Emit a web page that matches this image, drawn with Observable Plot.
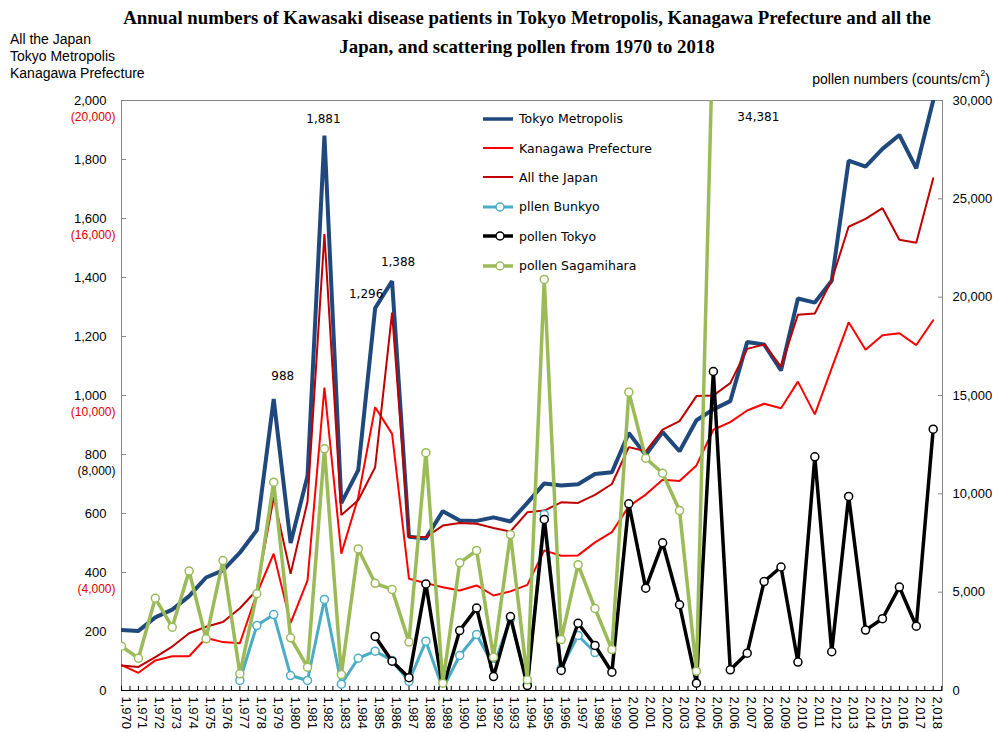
<!DOCTYPE html>
<html><head><meta charset="utf-8">
<script src="https://cdn.jsdelivr.net/npm/d3@7"></script>
<script src="https://cdn.jsdelivr.net/npm/@observablehq/plot@0.6"></script>
<style>
body{margin:0;background:#fff;}
#wrap{position:relative;width:993px;height:732px;overflow:hidden;background:#fff;}
#title{position:absolute;left:527px;top:3px;transform:translateX(-50%);white-space:nowrap;text-align:center;font-family:"Liberation Serif","Times New Roman",serif;font-weight:bold;font-size:18.8px;line-height:29px;color:#000;}
#ltitle{position:absolute;left:10px;top:31px;font-family:"Liberation Sans",Arial,sans-serif;font-size:14px;line-height:17px;color:#000;}
#rtitle{position:absolute;right:3px;top:71px;font-family:"Liberation Sans",Arial,sans-serif;font-size:14px;color:#000;}
#rtitle sup{font-size:9px;vertical-align:top;position:relative;top:-3px;}
#chart{position:absolute;left:0;top:0;}
#legend{position:absolute;left:481px;top:104px;font-family:"DejaVu Sans",Verdana,sans-serif;font-size:12.5px;color:#000;}
.lrow{height:29.4px;display:flex;align-items:center;}
.lrow svg{margin-right:4px;}
</style></head><body>
<div id="wrap">
<div id="title">Annual numbers of Kawasaki disease patients in Tokyo Metropolis, Kanagawa Prefecture and all the<br>Japan, and scattering pollen from 1970 to 2018</div>
<div id="ltitle">All the Japan<br>Tokyo Metropolis<br>Kanagawa Prefecture</div>
<div id="rtitle">pollen numbers (counts/cm<sup>2</sup>)</div>
<div id="chart"></div>
<div id="legend"></div>
</div>
<script>
// ---- categories ----
const years = [1970,1971,1972,1973,1974,1975,1976,1977,1978,1979,
  1980,1981,1982,1983,1984,1985,1986,1987,1988,1989,
  1990,1991,1992,1993,1994,1995,1996,1997,1998,1999,
  2000,2001,2002,2003,2004,2005,2006,2007,2008,2009,
  2010,2011,2012,2013,2014,2015,2016,2017,2018];

// ---- patients (left axis) ----
const tokyoPatients = [205,202,248,274,320,383,407,467,543,988,
  500,727,1881,635,747,1296,1388,521,515,608,
  576,575,587,573,636,702,695,699,734,740,
  873,798,876,811,916,953,981,1181,1173,1085,
  1329,1315,1389,1796,1776,1836,1883,1770,2000];
const kanagawaPatients = [86,60,102,116,116,178,164,160,328,464,
  228,373,1027,464,655,960,870,379,364,350,
  339,356,322,336,358,475,457,458,502,537,
  624,664,714,710,763,884,910,949,972,957,
  1047,936,1093,1248,1155,1204,1211,1171,1255];
// all Japan (read on the bracketed scale, x10)
const japanPatients = [850,800,1130,1490,1940,2160,2320,2790,3400,6550,
  3960,6400,15470,5950,6450,7570,12810,5200,5200,5590,
  5680,5650,5510,5390,6040,6100,6380,6360,6630,7000,
  8250,8110,8840,9130,9980,10000,10420,11580,11730,10980,
  12740,12780,13910,15720,15990,16350,15280,15180,17360];

// ---- pollen (right axis, counts/cm2) ----
const bunkyoStart = 1977;
const pollenBunkyo = [510,3300,3860,760,510,4630,320,1640,2000,1530,
  460,2510,90,1780,2850,1250,3650,300,8950,1120,2800,1930];
const tokyoPollenStart = 1985;
const pollenTokyo = [2750,1490,650,5420,90,3050,4190,710,3760,250,
  8700,1020,3420,2290,930,9490,5200,7510,4360,370,
  16220,1050,1900,5540,6280,1445,11880,1970,9870,3070,
  3650,5260,3270,13290];
const sagamiharaStart = 1970;
const pollenSagamihara = [2250,1640,4690,3220,6070,2630,6610,850,4920,10590,
  2680,1185,12290,814,7200,5450,5140,2460,12090,370,
  6490,7120,1690,7930,545,20900,2590,6400,4170,2080,
  15170,11810,11050,9150,980,34381];

// ---- axis ticks ----
const leftTicks = [0,200,400,600,800,1000,1200,1400,1600,1800,2000];
const pollenTicks = [0,5000,10000,15000,20000,25000,30000];
const japanTickLabels = [
  {v: 2000, label: "(20,000)", red: true},
  {v: 1600, label: "(16,000)", red: true},
  {v: 1000, label: "(10,000)", red: true},
  {v: 800,  label: "(8,000)",  red: false},
  {v: 400,  label: "(4,000)",  red: true}
];

// scale ratios between the value systems and the left axis
const leftMax = 2000, pollenMax = 30000, japanFactor = 10;
const pollenFactor = pollenMax / leftMax;

const fmt = d3.format(",");
const sliceYears = start => years.slice(years.indexOf(start));
const toRows = (ys, vals, f) => vals.map((v, i) => ({year: ys[i], raw: v, v: v / f}));

const series = [
  {name: "Tokyo Metropolis", color: "#1F497D", width: 4, marker: false, rows: toRows(years, tokyoPatients, 1)},
  {name: "Kanagawa Prefecture", color: "#FF0000", width: 2, marker: false, rows: toRows(years, kanagawaPatients, 1)},
  {name: "All the Japan", color: "#C00000", width: 2, marker: false, rows: toRows(years, japanPatients, japanFactor)},
  {name: "pllen Bunkyo", color: "#4BACC6", width: 3, marker: true, rows: toRows(sliceYears(bunkyoStart), pollenBunkyo, pollenFactor)},
  {name: "pollen Tokyo", color: "#000000", width: 3.5, marker: true, rows: toRows(sliceYears(tokyoPollenStart), pollenTokyo, pollenFactor)},
  {name: "pollen Sagamihara", color: "#9BBB59", width: 3.5, marker: true, rows: toRows(sliceYears(sagamiharaStart), pollenSagamihara, pollenFactor)}
];

const halfTicks = [];
years.forEach(y => { halfTicks.push(y); halfTicks.push(y + 0.5); });

const seriesMarks = series.flatMap(s => {
  const m = [Plot.line(s.rows, {x: "year", y: "v", stroke: s.color, strokeWidth: s.width, strokeLinejoin: "miter", clip: true})];
  if (s.marker) m.push(Plot.dot(s.rows, {x: "year", y: "v", r: 4, fill: "#fff", stroke: s.color, strokeWidth: 1.5, clip: true}));
  return m;
});

const tokyoRows = series[0].rows;
const ann = y => tokyoRows.filter(d => d.year === y);
const sagRows = series[5].rows;
const offChart = sagRows.filter(d => d.v > leftMax);
const annFont = "'DejaVu Sans', Verdana, sans-serif";

const chart = Plot.plot({
  width: 993, height: 732,
  marginTop: 100, marginBottom: 42, marginLeft: 121, marginRight: 51,
  style: {fontFamily: "'Liberation Sans', Arial, sans-serif", fontSize: "13px", color: "#000", background: "transparent", overflow: "visible"},
  x: {domain: [1970, 2018.55], axis: null},
  y: {domain: [0, leftMax], axis: null},
  marks: [
    Plot.axisY({anchor: "left", label: null, ticks: leftTicks, tickFormat: fmt, tickSize: -5, tickPadding: 20, stroke: "#888", fill: "#000", fontSize: 13}),
    Plot.axisY({anchor: "right", label: null, ticks: pollenTicks.map(v => v / pollenFactor), tickFormat: d => fmt(Math.round(d * pollenFactor)), tickSize: -5, tickPadding: 15, stroke: "#888", fill: "#000", fontSize: 13}),
    Plot.text(japanTickLabels, {y: "v", text: "label", frameAnchor: "left", textAnchor: "end", dx: -6, dy: 17, fontSize: 12, fill: d => d.red ? "#E00000" : "#000"}),
    Plot.frame({stroke: "#888"}),
    Plot.ruleY([0], {stroke: "#000"}),
    Plot.ruleX(halfTicks, {x: d => d, y1: 0, y2: 14, stroke: "#000"}),
    Plot.text(years, {x: d => d, frameAnchor: "bottom", rotate: 90, textAnchor: "start", dy: 6, fontSize: 13}),
    ...seriesMarks,
    Plot.text(ann(1979), {x: "year", y: "v", text: d => fmt(d.raw), dx: 9, dy: -23, fontFamily: annFont, fontSize: 12}),
    Plot.text(ann(1982), {x: "year", y: "v", text: d => fmt(d.raw), dx: -1, dy: -16, fontFamily: annFont, fontSize: 12}),
    Plot.text(ann(1985), {x: "year", y: "v", text: d => fmt(d.raw), dx: -9, dy: -14, fontFamily: annFont, fontSize: 12}),
    Plot.text(ann(1986), {x: "year", y: "v", text: d => fmt(d.raw), dx: 6, dy: -19, fontFamily: annFont, fontSize: 12}),
    Plot.text(offChart, {x: "year", y: leftMax, text: d => fmt(d.raw), textAnchor: "start", dx: 24, dy: 17, fontFamily: annFont, fontSize: 12})
  ]
});
document.getElementById("chart").appendChild(chart);

// legend
const leg = document.getElementById("legend");
series.forEach(s => {
  const row = document.createElement("div");
  row.className = "lrow";
  const circ = s.marker ? `<circle cx="19" cy="7" r="4" fill="#fff" stroke="${s.color}" stroke-width="1.5"/>` : "";
  row.innerHTML = `<svg width="34" height="14"><line x1="2" y1="7" x2="32" y2="7" stroke="${s.color}" stroke-width="${Math.min(s.width, 3.5)}"/>${circ}</svg><span>${s.name}</span>`;
  leg.appendChild(row);
});
</script>
</body></html>
